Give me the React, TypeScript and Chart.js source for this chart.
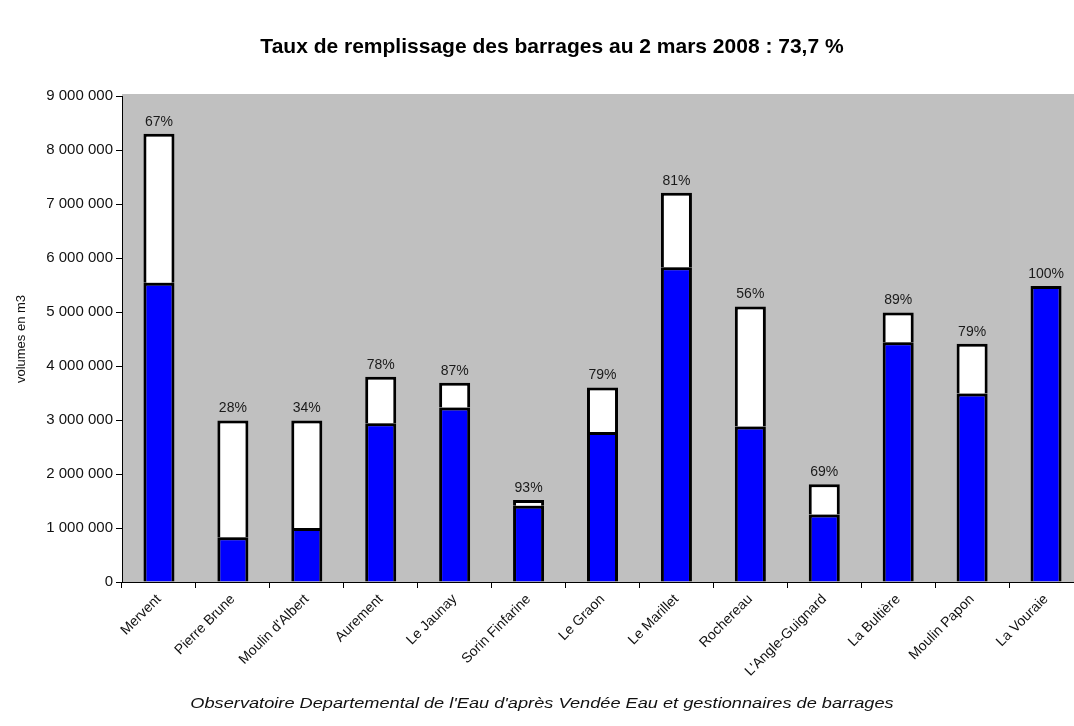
import { useEffect, useRef } from "react";
import { Chart, registerables } from "chart.js";

Chart.register(...registerables);

const categories = [
  "Mervent",
  "Pierre Brune",
  "Moulin d'Albert",
  "Aurement",
  "Le Jaunay",
  "Sorin Finfarine",
  "Le Graon",
  "Le Marillet",
  "Rochereau",
  "L'Angle-Guignard",
  "La Bultière",
  "Moulin Papon",
  "La Vouraie",
];

// volumes in millions of m3
const capacity = [8.3, 2.99, 2.99, 3.8, 3.69, 1.52, 3.6, 7.21, 5.1, 1.81, 4.99, 4.41, 5.48];
const filled = [5.54, 0.83, 1.0, 2.94, 3.23, 1.41, 2.78, 5.83, 2.88, 1.25, 4.44, 3.49, 5.48];
const percentLabels = ["67%", "28%", "34%", "78%", "87%", "93%", "79%", "81%", "56%", "69%", "89%", "79%", "100%"];

const titleText = "Taux de remplissage des barrages au 2 mars 2008 : 73,7 %";
const footerText = "Observatoire Departemental de l'Eau d'après Vendée Eau et gestionnaires de barrages";
const yAxisTitle = "volumes en m3";
const yMax = 9000000;
const yStep = 1000000;

const FONT = "'Liberation Sans', Arial, sans-serif";

function fmt(v: number): string {
  return String(Math.round(v)).replace(/\B(?=(\d{3})+(?!\d))/g, " ");
}

export default function App() {
  const ref = useRef<HTMLCanvasElement>(null);

  useEffect(() => {
    const canvas = ref.current;
    if (!canvas) return;
    const M = 1000000;
    const filledData = filled.map((v) => v * M);
    const emptyData = capacity.map((c, i) => Math.max(0, c - filled[i]) * M);

    const bgPlugin = {
      id: "plotBg",
      beforeDraw(chart: any) {
        const { ctx, chartArea: a } = chart;
        ctx.save();
        ctx.fillStyle = "#c0c0c0";
        ctx.fillRect(a.left, a.top - 2, a.right - a.left, a.bottom - a.top + 2);
        ctx.restore();
      },
    };

    const textPlugin = {
      id: "texts",
      afterDatasetsDraw(chart: any) {
        const { ctx } = chart;
        const m0 = chart.getDatasetMeta(0);
        const m1 = chart.getDatasetMeta(1);
        ctx.save();
        ctx.font = `14px ${FONT}`;
        ctx.fillStyle = "#1a1a1a";
        ctx.textAlign = "center";
        ctx.textBaseline = "bottom";
        percentLabels.forEach((lab, i) => {
          const el = emptyData[i] > 0 ? m1.data[i] : m0.data[i];
          ctx.fillText(lab, el.x, el.y - 5);
        });
        ctx.restore();
      },
      afterDraw(chart: any) {
        const { ctx } = chart;
        ctx.save();
        ctx.fillStyle = "#000";
        ctx.textAlign = "center";
        ctx.textBaseline = "middle";
        ctx.font = `bold 21px ${FONT}`;
        ctx.fillText(titleText, 552, 47);
        ctx.restore();
        ctx.save();
        ctx.font = `italic 14px ${FONT}`;
        ctx.fillStyle = "#111";
        ctx.textAlign = "center";
        ctx.textBaseline = "middle";
        ctx.translate(542, 704);
        ctx.scale(1.3, 1);
        ctx.fillText(footerText, 0, 0);
        ctx.restore();
      },
    };

    const barBorder = { top: 3, left: 3, right: 3, bottom: 0 };

    const chart = new Chart(canvas, {
      type: "bar",
      data: {
        labels: categories,
        datasets: [
          {
            label: "rempli",
            data: filledData,
            backgroundColor: "#0000ff",
            borderColor: "#000000",
            borderWidth: barBorder,
            borderSkipped: false,
            stack: "s",
            barPercentage: 0.42,
            categoryPercentage: 1,
          },
          {
            label: "vide",
            data: emptyData,
            backgroundColor: "#ffffff",
            borderColor: "#000000",
            borderWidth: barBorder,
            borderSkipped: false,
            stack: "s",
            barPercentage: 0.42,
            categoryPercentage: 1,
          },
        ],
      },
      options: {
        responsive: false,
        animation: false,
        layout: { padding: { top: 96, left: 0, right: 7, bottom: 0 } },
        plugins: {
          legend: { display: false },
          tooltip: { enabled: false },
          title: { display: false },
        },
        scales: {
          x: {
            stacked: true,
            afterFit(scale: any) {
              scale.height = 144;
            },
            grid: {
              display: true,
              offset: true,
              drawOnChartArea: false,
              drawTicks: true,
              tickLength: 6,
              color: "#000",
            },
            border: { display: true, color: "#000", width: 1 },
            ticks: {
              autoSkip: false,
              minRotation: 45,
              maxRotation: 45,
              padding: 3,
              color: "#111",
              font: { family: FONT, size: 14 },
            },
          },
          y: {
            stacked: true,
            min: 0,
            max: yMax,
            afterFit(scale: any) {
              scale.width = 122;
            },
            grid: {
              display: true,
              drawOnChartArea: false,
              drawTicks: true,
              tickLength: 6,
              color: "#000",
            },
            border: { display: true, color: "#000", width: 1 },
            ticks: {
              stepSize: yStep,
              padding: 3,
              color: "#111",
              font: { family: FONT, size: 15 },
              callback: (v: any) => fmt(Number(v)),
            },
            title: {
              display: true,
              text: yAxisTitle,
              color: "#111",
              padding: { top: 14, bottom: 0 },
              font: { family: FONT, size: 13 },
            },
          },
        },
      },
      plugins: [bgPlugin, textPlugin],
    } as any);

    return () => chart.destroy();
  }, []);

  return (
    <div
      style={{
        position: "fixed",
        left: 0,
        top: 0,
        width: 1074,
        height: 726,
        overflow: "hidden",
        background: "#ffffff",
      }}
    >
      <canvas ref={ref} width={1090} height={726} style={{ display: "block" }} />
    </div>
  );
}
